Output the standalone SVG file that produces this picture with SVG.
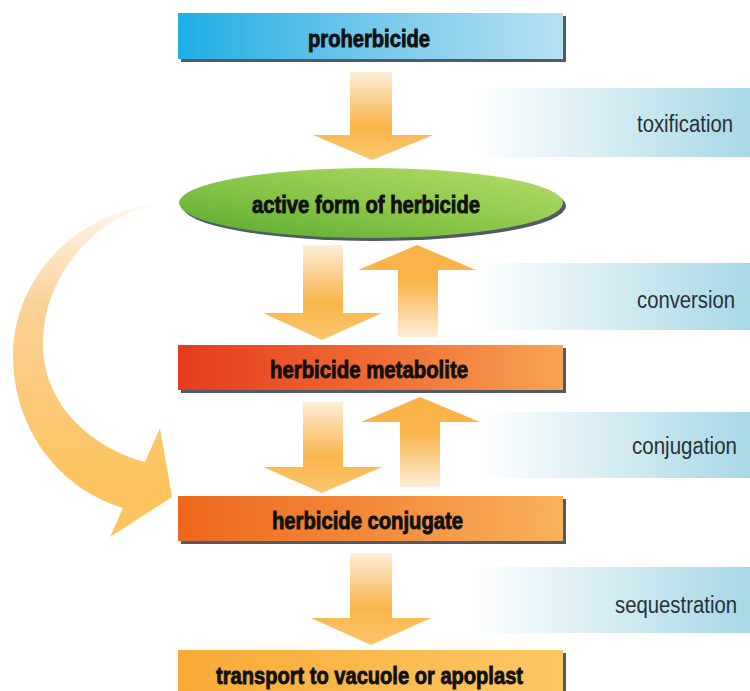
<svg xmlns="http://www.w3.org/2000/svg" width="750" height="691" viewBox="0 0 750 691">
<defs>
<linearGradient id="gBand" x1="0" y1="0" x2="1" y2="0">
<stop offset="0" stop-color="#ffffff"/>
<stop offset="0.45" stop-color="#d9eef4"/>
<stop offset="1" stop-color="#a7d8e5"/>
</linearGradient>
<linearGradient id="gBlue" x1="0" y1="0" x2="1" y2="0">
<stop offset="0" stop-color="#1eaee4"/>
<stop offset="0.55" stop-color="#7ccaec"/>
<stop offset="1" stop-color="#b6e1f2"/>
</linearGradient>
<linearGradient id="gGreen" x1="0" y1="1" x2="1" y2="0">
<stop offset="0" stop-color="#55a92f"/>
<stop offset="0.45" stop-color="#88c547"/>
<stop offset="1" stop-color="#b8dd6a"/>
</linearGradient>
<linearGradient id="gRed" x1="0" y1="0" x2="1" y2="0">
<stop offset="0" stop-color="#e63b1d"/>
<stop offset="0.5" stop-color="#ef6a32"/>
<stop offset="1" stop-color="#f7a453"/>
</linearGradient>
<linearGradient id="gOrange" x1="0" y1="0" x2="1" y2="0">
<stop offset="0" stop-color="#ee661c"/>
<stop offset="0.5" stop-color="#f38a3a"/>
<stop offset="1" stop-color="#f9b15c"/>
</linearGradient>
<linearGradient id="gYellow" x1="0" y1="0" x2="1" y2="0">
<stop offset="0" stop-color="#f8aa35"/>
<stop offset="1" stop-color="#fcc864"/>
</linearGradient>
<linearGradient id="gDown" x1="0" y1="0" x2="0" y2="1">
<stop offset="0" stop-color="#feeed8"/>
<stop offset="0.6" stop-color="#f9b44b"/>
<stop offset="1" stop-color="#fcc66c"/>
</linearGradient>
<linearGradient id="gUp" x1="0" y1="1" x2="0" y2="0">
<stop offset="0" stop-color="#feeed8"/>
<stop offset="0.6" stop-color="#f9b44b"/>
<stop offset="1" stop-color="#f9b247"/>
</linearGradient>
<linearGradient id="gCurve" gradientUnits="userSpaceOnUse" x1="0" y1="205" x2="0" y2="480">
<stop offset="0" stop-color="#fff7ee"/>
<stop offset="0.35" stop-color="#fad299"/>
<stop offset="1" stop-color="#fcc35e"/>
</linearGradient>
<style>
.shadow{fill:#505b67}
.node-text{font-family:"Liberation Sans",Arial,sans-serif;font-weight:bold;font-size:24px;fill:#111111;stroke:#111111;stroke-width:0.9;text-anchor:start}
.label{font-family:"Liberation Sans",Arial,sans-serif;font-size:22px;fill:#2b3137}
</style>
</defs>
<rect width="750" height="691" fill="#ffffff"/>

<g id="bands">
<rect x="473" y="88" width="277" height="69" fill="url(#gBand)"/>
<rect x="473" y="263" width="277" height="67" fill="url(#gBand)"/>
<rect x="478" y="412" width="272" height="66" fill="url(#gBand)"/>
<rect x="468" y="567" width="282" height="66" fill="url(#gBand)"/>
<text class="label" transform="translate(637,132) scale(1,1.12)" x="0" y="0" textLength="96" lengthAdjust="spacingAndGlyphs">toxification</text>
<text class="label" transform="translate(637,308) scale(1,1.12)" x="0" y="0" textLength="98" lengthAdjust="spacingAndGlyphs">conversion</text>
<text class="label" transform="translate(632,454) scale(1,1.12)" x="0" y="0" textLength="105" lengthAdjust="spacingAndGlyphs">conjugation</text>
<text class="label" transform="translate(615,613) scale(1,1.12)" x="0" y="0" textLength="122" lengthAdjust="spacingAndGlyphs">sequestration</text>
</g>

<g id="connectors">
<path d="M350,72 H392 V135 H433 L372,160 L313,135 H350 Z" fill="url(#gDown)"/>
<path d="M303,245 H343 V313 H382 L322,340 L263,313 H303 Z" fill="url(#gDown)"/>
<path d="M398,337 V270 H358 L417,245 L476,270 H438 V337 Z" fill="url(#gUp)"/>
<path d="M303,402 H343 V467 H382 L322,493 L263,467 H303 Z" fill="url(#gDown)"/>
<path d="M400,487 V422 H361 L420,397 L480,422 H440 V487 Z" fill="url(#gUp)"/>
<path d="M350,553 H392 V618 H431 L371,645 L311,618 H350 Z" fill="url(#gDown)"/>
<path d="M157,204 C75,212 13,280 13,355 C13,428 58,488 123,508 L110,537 L172,497 L160,428 L145,462 C86,446 43,400 43,345 C43,272 98,216 157,204 Z" fill="url(#gCurve)"/>
</g>

<g id="proherbicide">
<rect class="shadow" x="181" y="16" width="385" height="46"/>
<rect x="178" y="13" width="385" height="46" fill="url(#gBlue)"/>
<text class="node-text" x="308" y="47" textLength="122" lengthAdjust="spacingAndGlyphs">proherbicide</text>
</g>

<g id="active-form">
<ellipse class="shadow" cx="374" cy="206" rx="192" ry="35"/>
<ellipse cx="371" cy="203" rx="192" ry="35" fill="url(#gGreen)"/>
<text class="node-text" x="252" y="213" textLength="228" lengthAdjust="spacingAndGlyphs">active form of herbicide</text>
</g>

<g id="metabolite">
<rect class="shadow" x="181" y="348" width="385" height="45"/>
<rect x="178" y="345" width="385" height="45" fill="url(#gRed)"/>
<text class="node-text" x="270" y="378" textLength="198" lengthAdjust="spacingAndGlyphs">herbicide metabolite</text>
</g>

<g id="conjugate">
<rect class="shadow" x="181" y="499" width="385" height="45"/>
<rect x="178" y="496" width="385" height="45" fill="url(#gOrange)"/>
<text class="node-text" x="272" y="529" textLength="191" lengthAdjust="spacingAndGlyphs">herbicide conjugate</text>
</g>

<g id="transport">
<rect class="shadow" x="181" y="653" width="385" height="46"/>
<rect x="178" y="650" width="385" height="46" fill="url(#gYellow)"/>
<text class="node-text" x="216" y="684" textLength="307" lengthAdjust="spacingAndGlyphs">transport to vacuole or apoplast</text>
</g>
</svg>
